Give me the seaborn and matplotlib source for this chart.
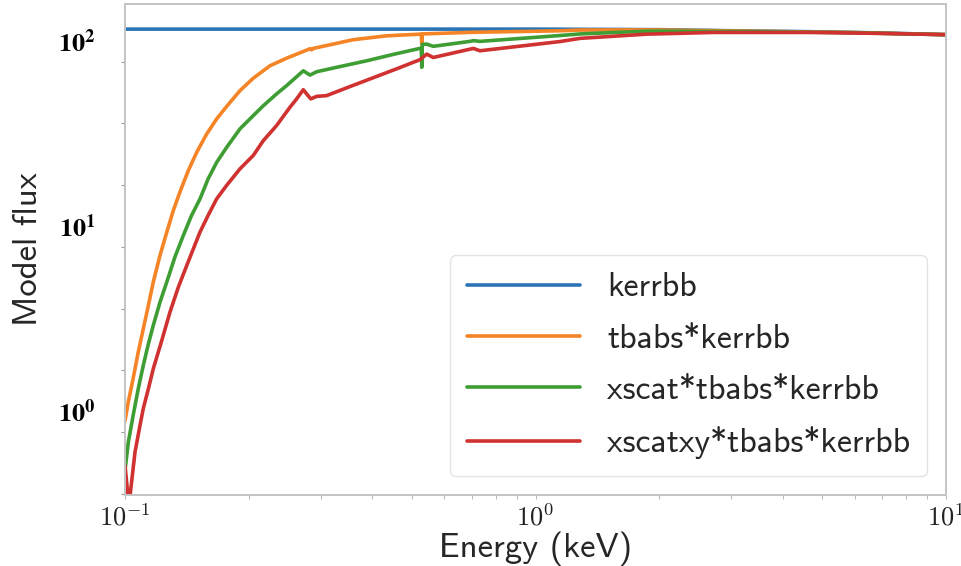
import numpy as np
import pandas as pd
import matplotlib
matplotlib.use("Agg")
import matplotlib.pyplot as plt
import matplotlib.transforms as mtransforms
from matplotlib.ticker import FixedLocator, NullFormatter
import seaborn as sns

# ---- data ----
labels = ["kerrbb", "tbabs*kerrbb", "xscat*tbabs*kerrbb", "xscatxy*tbabs*kerrbb"]
colors = ["#2a74b4", "#f58426", "#3e9e34", "#cf3230"]

e_kerrbb = [0.100, 0.300, 1.000, 2.000, 3.000, 5.000, 7.000, 10.00]
f_kerrbb = [150.0, 150.0, 150.0, 149.0, 147.0, 145.0, 143.0, 140.0]

e_tbabs = [0.1000, 0.1019, 0.1047, 0.1077, 0.1108, 0.1140, 0.1172, 0.1217, 0.1264,
           0.1311, 0.1361, 0.1426, 0.1495, 0.1580, 0.1672, 0.1769, 0.1906, 0.2054,
           0.2255, 0.2476, 0.2823, 0.2850, 0.2875, 0.3599, 0.4335, 0.5270, 0.5284,
           0.5298, 0.7056, 1.147, 1.284, 1.900, 3.331, 5.836, 10.00]
f_tbabs = [1.15, 1.46, 1.95, 2.70, 3.61, 4.83, 6.46, 9.0, 12.0,
           15.7, 19.8, 25.8, 32.4, 40.6, 49.1, 57.4, 69.8, 81.5,
           95.1, 104.5, 117.5, 116.0, 118.0, 131.5, 138.0, 141.0, 124.7,
           141.3, 144.2, 146.9, 148.3, 148.6, 146.2, 143.9, 140.0]

e_xscat = [0.1000, 0.1019, 0.1047, 0.1077, 0.1108, 0.1140, 0.1172, 0.1217, 0.1264,
           0.1323, 0.1387, 0.1453, 0.1523, 0.1594, 0.1672, 0.1769, 0.1906, 0.2054,
           0.2173, 0.2340, 0.2476, 0.2718, 0.2823, 0.2931, 0.3278, 0.3881, 0.4507,
           0.5270, 0.5284, 0.5298, 0.5431, 0.5636, 0.6924, 0.7056, 0.7325, 1.147,
           1.284, 1.866, 3.331, 5.836, 10.00]
f_xscat = [0.62, 0.884, 1.233, 1.71, 2.29, 2.99, 3.77, 5.03, 6.46,
           8.81, 11.53, 14.8, 18.16, 23.3, 28.6, 34.5, 43.4, 51.2,
           57.9, 67.0, 74.3, 89.3, 84.7, 88.3, 93.3, 101.2, 109.6,
           118.5, 93.3, 124.0, 124.5, 121.1, 128.8, 130.0, 128.8, 138.5,
           141.3, 146.2, 145.5, 143.5, 140.0]

e_xscatxy = [0.1000, 0.1022, 0.1058, 0.1088, 0.1108, 0.1140, 0.1172, 0.1229, 0.1287,
             0.1348, 0.1414, 0.1523, 0.1594, 0.1672, 0.1769, 0.1906, 0.2054, 0.2173,
             0.2340, 0.2523, 0.2619, 0.2718, 0.2834, 0.2931, 0.3098, 0.3531, 0.4027,
             0.4592, 0.5233, 0.5431, 0.5636, 0.6924, 0.7056, 0.7325, 1.147, 1.284,
             1.866, 2.711, 4.751, 6.906, 10.00]
f_xscatxy = [0.66, 0.40, 0.782, 1.088, 1.340, 1.71, 2.198, 3.12, 4.446,
             6.04, 7.94, 12.02, 14.8, 18.16, 21.5, 26.4, 31.2, 37.5,
             45.2, 56.8, 63.0, 70.6, 63.0, 65.0, 65.6, 73.4, 82.0,
             91.6, 102.6, 109.9, 105.4, 116.9, 118.0, 114.6, 128.5, 133.7,
             140.9, 143.9, 143.9, 142.2, 140.0]

energies = [e_kerrbb, e_tbabs, e_xscat, e_xscatxy]
fluxes = [f_kerrbb, f_tbabs, f_xscat, f_xscatxy]

df = pd.concat(
    [pd.DataFrame({"Energy": e, "Flux": f, "Model": lab})
     for e, f, lab in zip(energies, fluxes, labels)],
    ignore_index=True)

# ---- figure ----
sns.set_theme(style="white")
plt.rcParams["mathtext.fontset"] = "cm"
sans = ["cmss10", "DejaVu Sans"]

fig = plt.figure(figsize=(9.61, 5.66), dpi=100)
ax = fig.add_axes([125 / 961, 1 - 495 / 566, 821 / 961, 491 / 566])

sns.lineplot(data=df, x="Energy", y="Flux", hue="Model", hue_order=labels,
             palette=colors, estimator=None, sort=True, linewidth=2.6,
             legend=False, ax=ax)

ax.set_xscale("log")
ax.set_yscale("log")
ax.set_xlim(0.1, 10)
ax.set_ylim(0.457, 205)

# spines
for s in ax.spines.values():
    s.set_color("#c4c4c4")
    s.set_linewidth(1.4)

# x ticks
ax.set_xticks([0.1, 1, 10])
ax.set_xticklabels([r"$10^{-1}$", r"$10^{0}$", r"$10^{1}$"], fontsize=19)
ax.xaxis.set_minor_locator(FixedLocator(
    [m * d for d in (0.1, 1) for m in range(2, 10)]))
ax.xaxis.set_minor_formatter(NullFormatter())
ax.tick_params(axis="x", which="both", direction="out", length=3, width=0.8,
               color="#bbbbbb", pad=4, labelcolor="#222222", bottom=True)

# y ticks
ax.set_yticks([1, 10, 100])
ax.set_yticklabels([r"$\mathbf{10^{0}}$", r"$\mathbf{10^{1}}$", r"$\mathbf{10^{2}}$"],
                   fontsize=19)
ax.yaxis.set_minor_locator(FixedLocator(
    [10 ** (k / 3) for k in range(-1, 8) if k % 3 != 0]))
ax.yaxis.set_minor_formatter(NullFormatter())
ax.tick_params(axis="y", which="both", direction="out", length=3, width=0.8,
               color="#999999", pad=18, labelcolor="black", left=True)
offset = mtransforms.ScaledTranslation(0, 0.21, fig.dpi_scale_trans)
for lbl in ax.get_yticklabels():
    lbl.set_math_fontfamily("stix")
    lbl.set_transform(lbl.get_transform() + offset)

ax.set_xlabel("Energy (keV)", fontsize=25, family=sans, labelpad=0)
ax.set_ylabel("Model flux", fontsize=25, family=sans, labelpad=10)

handles = ax.get_lines()[:4]
leg = ax.legend(handles, labels, loc="lower right", prop={"family": sans, "size": 24.4},
                handlelength=3.35, handletextpad=0.8, labelspacing=0.6,
                borderpad=0.5, borderaxespad=0.55, frameon=True, fancybox=True)
leg.get_frame().set_edgecolor("#dddddd")
leg.get_frame().set_linewidth(1.0)

fig.savefig("out.png", dpi=100)
